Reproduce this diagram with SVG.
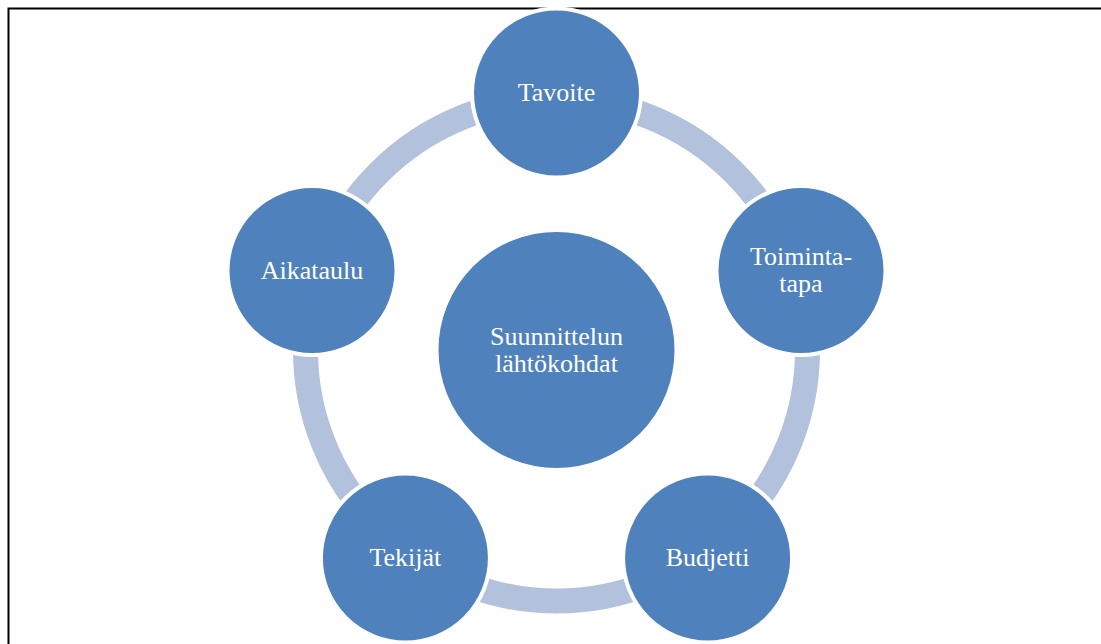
<svg xmlns="http://www.w3.org/2000/svg" width="1101" height="644" viewBox="0 0 1101 644">
<style>
.node{fill:#4F81BD;stroke:#FFFFFF;stroke-width:4}
.lbl{font-family:"Liberation Serif","Times New Roman",serif;font-size:26px;fill:#FFFFFF;text-anchor:middle}
</style>
<rect width="1101" height="644" fill="#FFFFFF"/>
<path d="M8.5 644 V8.5 H1101" fill="none" stroke="#000000" stroke-width="2"/>
<g id="connectors">
<circle cx="556.5" cy="350" r="251" fill="none" stroke="#B2C1DC" stroke-width="25"/>
</g>
<g id="center">
<circle class="node" cx="556.5" cy="350" r="120"/>
<text class="lbl" x="556.5" y="345">Suunnittelun</text>
<text class="lbl" x="556.5" y="372">lähtökohdat</text>
</g>
<g id="tavoite">
<circle class="node" cx="556.5" cy="93" r="84.5"/>
<text class="lbl" x="556.5" y="101">Tavoite</text>
</g>
<g id="toimintatapa">
<circle class="node" cx="801" cy="270.6" r="84.5"/>
<text class="lbl" x="801" y="265">Toiminta-</text>
<text class="lbl" x="801" y="292">tapa</text>
</g>
<g id="budjetti">
<circle class="node" cx="707.6" cy="558" r="84.5"/>
<text class="lbl" x="707.6" y="566">Budjetti</text>
</g>
<g id="tekijat">
<circle class="node" cx="405.4" cy="558" r="84.5"/>
<text class="lbl" x="405.4" y="566">Tekijät</text>
</g>
<g id="aikataulu">
<circle class="node" cx="312" cy="270.6" r="84.5"/>
<text class="lbl" x="312" y="279">Aikataulu</text>
</g>
</svg>
